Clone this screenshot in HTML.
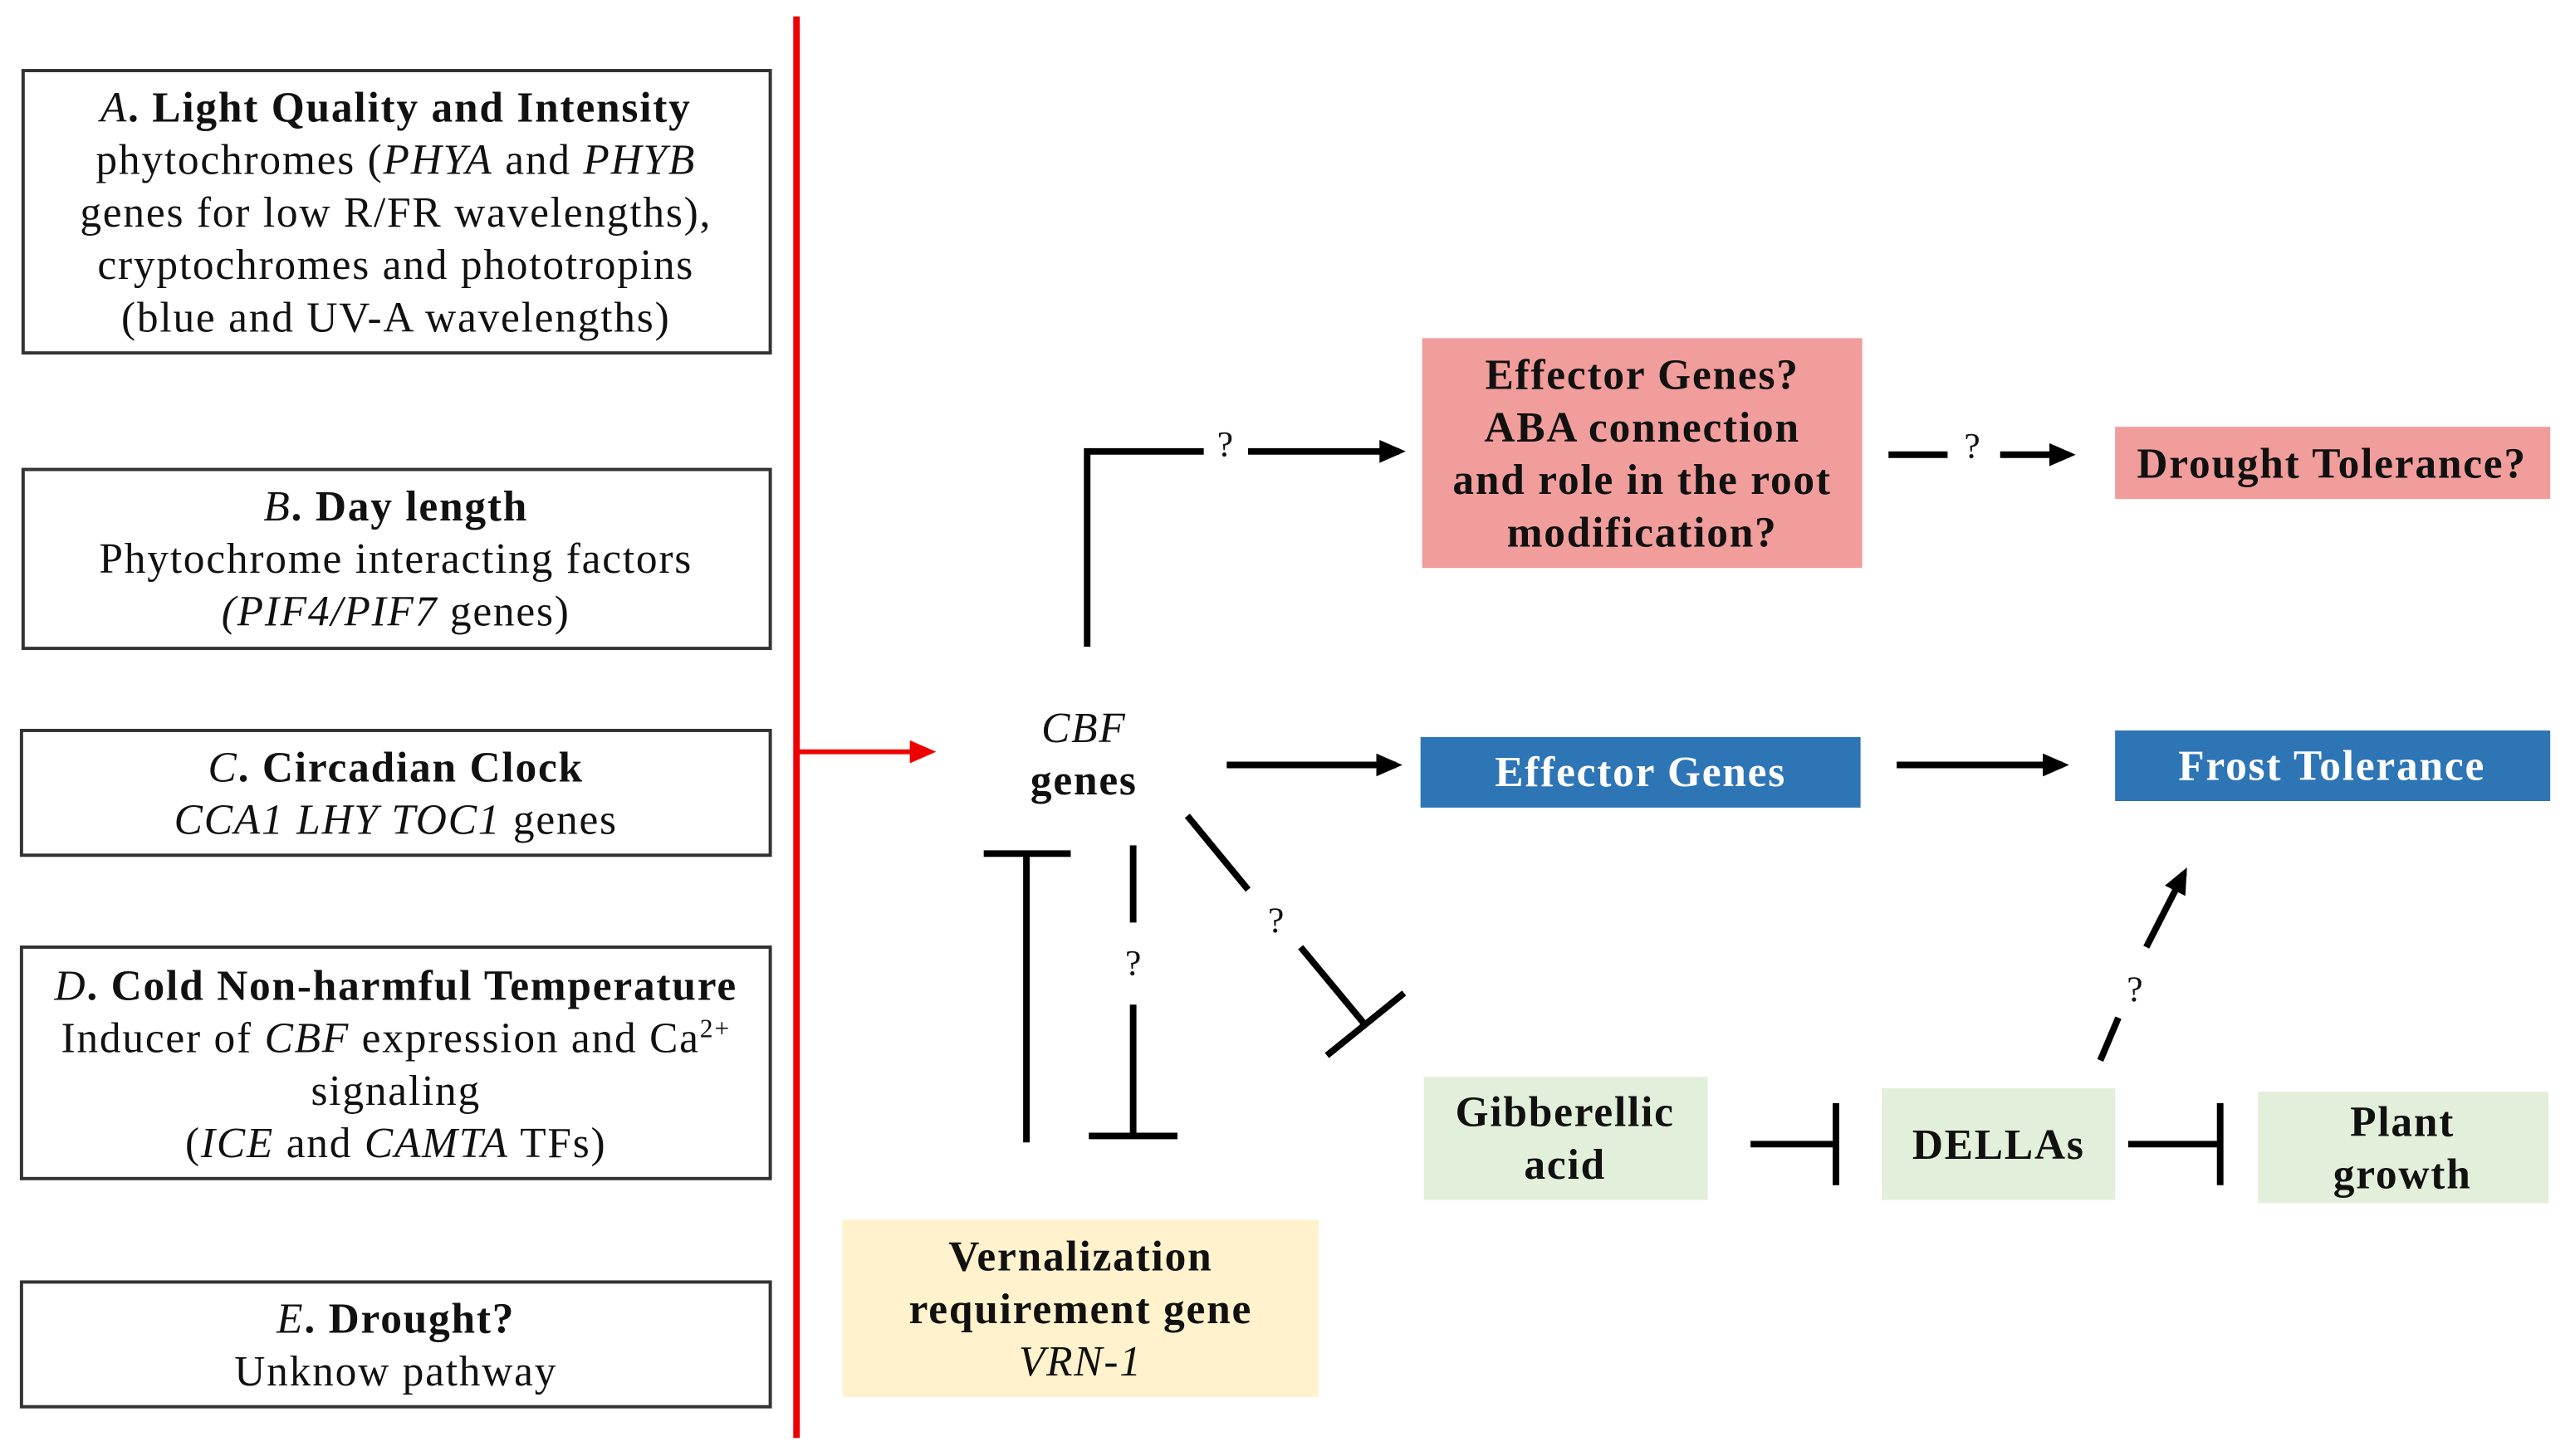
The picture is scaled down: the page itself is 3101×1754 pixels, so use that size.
<!DOCTYPE html>
<html><head><meta charset="utf-8"><style>
html,body{margin:0;padding:0;background:#fff;}
svg{display:block;}
text{font-family:"Liberation Serif",serif;font-size:26px;letter-spacing:0.9px;fill:#111;}
.b{font-weight:bold;}
.w{fill:#fff;font-weight:bold;}
.q{font-size:22px;letter-spacing:0;}
</style></head><body>
<svg width="3101" height="1754" viewBox="0 0 1568 887" xmlns="http://www.w3.org/2000/svg">
<defs>
<marker id="ahb" markerWidth="16" markerHeight="14" refX="12" refY="7" orient="auto" markerUnits="userSpaceOnUse"><path d="M0,0 L16,7 L0,14 z" fill="#000"/></marker>
<marker id="ahr" markerWidth="16" markerHeight="14" refX="12" refY="7" orient="auto" markerUnits="userSpaceOnUse"><path d="M0,0 L16,7 L0,14 z" fill="#e00"/></marker>
</defs>
<rect width="1568" height="887" fill="#fff"/>
<g fill="none" stroke="#333" stroke-width="2">
<rect x="14" y="43" width="455" height="172"/>
<rect x="14" y="286" width="455" height="109"/>
<rect x="13" y="445" width="456" height="76"/>
<rect x="13" y="577" width="456" height="141"/>
<rect x="13" y="781" width="456" height="76"/>
</g>
<g text-anchor="middle">
<text x="241" y="74" class="b"><tspan font-style="italic" font-weight="normal">A</tspan>. Light Quality and Intensity</text>
<text x="241" y="106">phytochromes (<tspan font-style="italic">PHYA</tspan> and <tspan font-style="italic">PHYB</tspan></text>
<text x="241" y="138">genes for low R/FR wavelengths),</text>
<text x="241" y="170">cryptochromes and phototropins</text>
<text x="241" y="202">(blue and UV-A wavelengths)</text>
<text x="241" y="317" class="b"><tspan font-style="italic" font-weight="normal">B</tspan>. Day length</text>
<text x="241" y="349">Phytochrome interacting factors</text>
<text x="241" y="381"><tspan font-style="italic">(PIF4/PIF7</tspan> genes)</text>
<text x="241" y="476" class="b"><tspan font-style="italic" font-weight="normal">C</tspan>. Circadian Clock</text>
<text x="241" y="508"><tspan font-style="italic">CCA1 LHY TOC1</tspan> genes</text>
<text x="241" y="609" class="b"><tspan font-style="italic" font-weight="normal">D</tspan>. Cold Non-harmful Temperature</text>
<text x="241" y="641">Inducer of <tspan font-style="italic">CBF</tspan> expression and Ca<tspan font-size="16" dy="-9">2+</tspan></text>
<text x="241" y="673">signaling</text>
<text x="241" y="705">(<tspan font-style="italic">ICE</tspan> and <tspan font-style="italic">CAMTA</tspan> TFs)</text>
<text x="241" y="812" class="b"><tspan font-style="italic" font-weight="normal">E</tspan>. Drought?</text>
<text x="241" y="844">Unknow pathway</text>
</g>
<line x1="485" y1="10" x2="485" y2="876" stroke="#e00" stroke-width="4"/>
<line x1="485" y1="458" x2="566" y2="458" stroke="#e00" stroke-width="3" marker-end="url(#ahr)"/>
<g text-anchor="middle">
<text x="660" y="452" font-style="italic">CBF</text>
<text x="660" y="484" class="b">genes</text>
</g>
<rect x="866" y="206" width="268" height="140" fill="#f19d9b"/>
<rect x="1288" y="260" width="265" height="44" fill="#f19d9b"/>
<rect x="865" y="449" width="268" height="43" fill="#2e75b6"/>
<rect x="1288" y="445" width="265" height="43" fill="#2e75b6"/>
<rect x="867" y="656" width="173" height="75" fill="#e2efda"/>
<rect x="1146" y="663" width="142" height="68" fill="#e2efda"/>
<rect x="1375" y="665" width="177" height="68" fill="#e2efda"/>
<rect x="513" y="743" width="290" height="108" fill="#fff2cc"/>
<g text-anchor="middle">
<text x="1000" y="237" class="b">Effector Genes?</text>
<text x="1000" y="269" class="b">ABA connection</text>
<text x="1000" y="301" class="b">and role in the root</text>
<text x="1000" y="333" class="b">modification?</text>
<text x="1420" y="291" class="b">Drought Tolerance?</text>
<text x="999" y="479" class="w">Effector Genes</text>
<text x="1420" y="475" class="w">Frost Tolerance</text>
<text x="953" y="686" class="b">Gibberellic</text>
<text x="953" y="718" class="b">acid</text>
<text x="1217" y="706" class="b">DELLAs</text>
<text x="1463" y="692" class="b">Plant</text>
<text x="1463" y="724" class="b">growth</text>
<text x="658" y="774" class="b">Vernalization</text>
<text x="658" y="806" class="b">requirement gene</text>
<text x="658" y="838" font-style="italic">VRN-1</text>
</g>
<g stroke="#000" stroke-width="4" fill="none">
<polyline points="662,394 662,275 733,275"/>
<line x1="760" y1="275" x2="852" y2="275" marker-end="url(#ahb)"/>
<line x1="1150" y1="277" x2="1186" y2="277"/>
<line x1="1218" y1="277" x2="1260" y2="277" marker-end="url(#ahb)"/>
<line x1="747" y1="466" x2="850" y2="466" marker-end="url(#ahb)"/>
<line x1="1155" y1="466" x2="1256" y2="466" marker-end="url(#ahb)"/>
<line x1="625" y1="520" x2="625" y2="696"/>
<line x1="599" y1="520" x2="652" y2="520"/>
<line x1="690" y1="515" x2="690" y2="562"/>
<line x1="690" y1="612" x2="690" y2="692"/>
<line x1="663" y1="692" x2="717" y2="692"/>
<line x1="723" y1="497" x2="760" y2="542"/>
<line x1="792" y1="577" x2="831" y2="624"/>
<line x1="808" y1="643" x2="855" y2="605"/>
<line x1="1066" y1="697" x2="1118" y2="697"/>
<line x1="1118" y1="672" x2="1118" y2="722"/>
<line x1="1296" y1="697" x2="1352" y2="697"/>
<line x1="1352" y1="672" x2="1352" y2="722"/>
<line x1="1279" y1="646" x2="1290" y2="620"/>
<line x1="1307" y1="577" x2="1330" y2="532" marker-end="url(#ahb)"/>
</g>
<g text-anchor="middle">
<text x="746" y="278" class="q">?</text>
<text x="1201" y="279" class="q">?</text>
<text x="690" y="594" class="q">?</text>
<text x="777" y="568" class="q">?</text>
<text x="1300" y="610" class="q">?</text>
</g>
</svg>
</body></html>
